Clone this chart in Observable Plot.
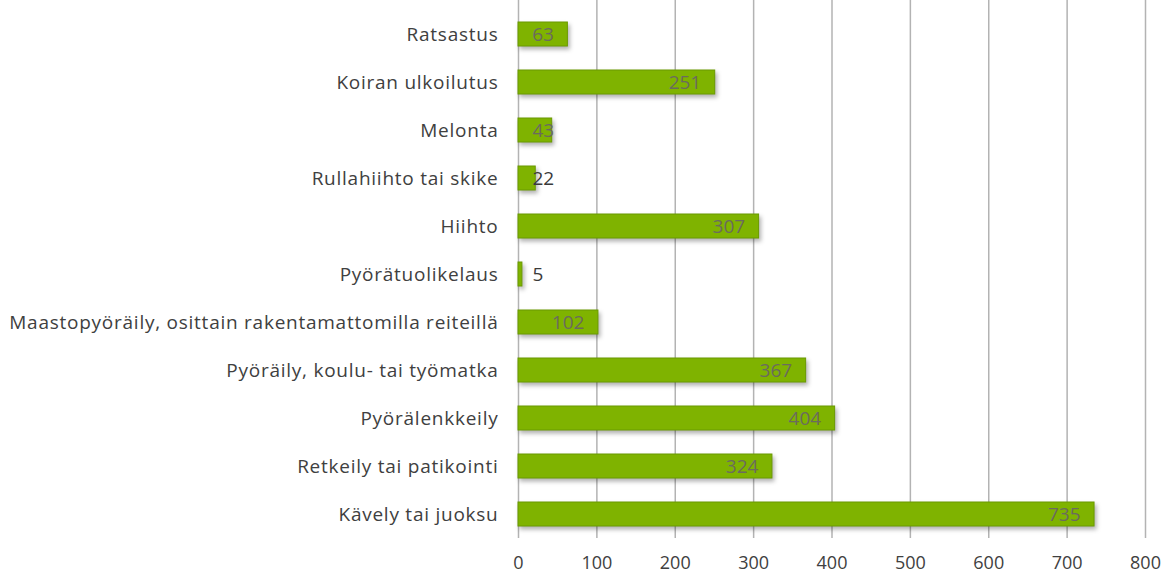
<!DOCTYPE html>
<html>
<head>
<meta charset="utf-8">
<script src="https://cdn.jsdelivr.net/npm/d3@7"></script>
<script src="https://cdn.jsdelivr.net/npm/@observablehq/plot@0.6"></script>
<style>
  html, body { margin: 0; padding: 0; background: #fff; }
  #chart svg { display: block; }
</style>
</head>
<body>
<div id="chart"></div>
<script>
const categories = [
  "Ratsastus",
  "Koiran ulkoilutus",
  "Melonta",
  "Rullahiihto tai skike",
  "Hiihto",
  "Pyörätuolikelaus",
  "Maastopyöräily, osittain rakentamattomilla reiteillä",
  "Pyöräily, koulu- tai työmatka",
  "Pyörälenkkeily",
  "Retkeily tai patikointi",
  "Kävely tai juoksu"
];
const values = [63, 251, 43, 22, 307, 5, 102, 367, 404, 324, 735];
const xTicks = [0, 100, 200, 300, 400, 500, 600, 700, 800];

const data = categories.map((c, i) => ({category: c, value: values[i]}));
const big = data.filter(d => d.value >= 50);
const small = data.filter(d => d.value < 50);
const font = "'Open Sans', sans-serif";

const chart = Plot.plot({
  width: 1171,
  height: 577,
  marginLeft: 518,
  marginRight: 26,
  marginTop: 0,
  marginBottom: 39,
  style: {fontFamily: font, fontSize: "18px", color: "#404040", background: "#fff"},
  x: {domain: [0, 800], ticks: xTicks, label: null},
  y: {domain: categories, range: [9, 538], paddingInner: 0.5, paddingOuter: 0.25, label: null},
  marks: [
    Plot.ruleX(xTicks, {stroke: "#b3b3b3", strokeWidth: 1.5}),
    Plot.axisX({ticks: xTicks, tickSize: 0, tickPadding: 18, fontSize: 18, fill: "#404040", label: null}),
    Plot.axisY({tickSize: 0, tickPadding: 20, fontSize: 19, fill: "#404040", label: null}),
    Plot.barX(data, {x: "value", y: "category", fill: "#7fb300", stroke: "#6a9a00", strokeWidth: 1}),
    Plot.text(big, {
      x: "value", y: "category", text: d => String(d.value),
      textAnchor: "end", dx: -14, fill: "#6b6b5e", fontSize: 19
    }),
    Plot.text(small, {
      x: () => 0, y: "category", text: d => String(d.value),
      textAnchor: "start", dx: 14, fill: d => d.value >= 30 ? "#6b6b5e" : "#3a3a3a", fontSize: 19
    })
  ]
});

d3.select(chart).select("g[aria-label=bar]").style("filter", "drop-shadow(2px 3px 2px rgba(0,0,0,0.3))");
d3.select(chart).selectAll('g[aria-label="y-axis tick label"] text').style("letter-spacing", "0.75px");

document.getElementById("chart").appendChild(chart);
</script>
</body>
</html>
